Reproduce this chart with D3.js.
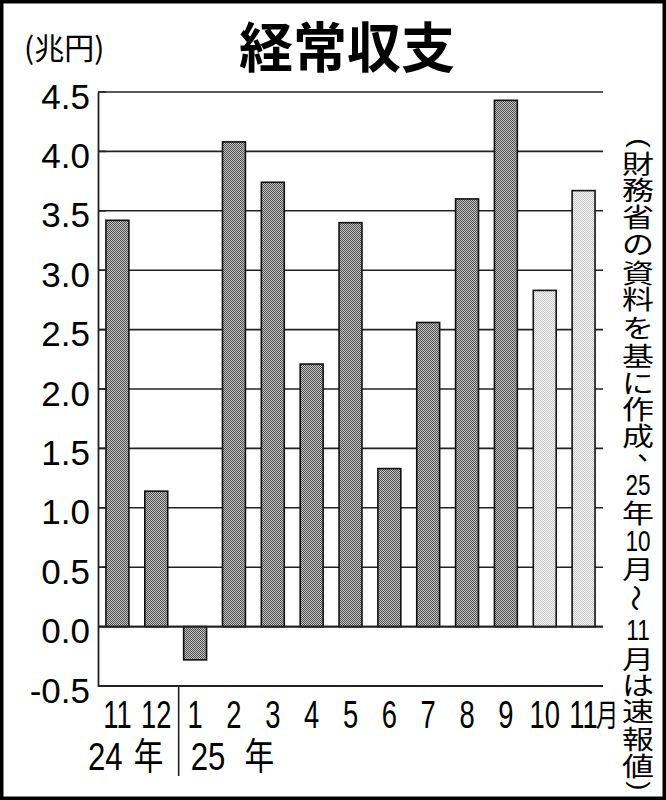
<!DOCTYPE html>
<html><head><meta charset="utf-8">
<script src="https://cdn.jsdelivr.net/npm/d3@7"></script>
<style>body{margin:0;background:#fff} svg{display:block}</style>
</head><body>
<svg id="c" width="666" height="800"></svg>
<script>
// ---- data ----
const months = ["11","12","1","2","3","4","5","6","7","8","9","10","11"];
const values = [3.42, 1.14, -0.28, 4.08, 3.74, 2.21, 3.40, 1.33, 2.56, 3.60, 4.43, 2.83, 3.67];
const preliminary = [false,false,false,false,false,false,false,false,false,false,false,true,true];
const yTicks = [-0.5, 0, 0.5, 1.0, 1.5, 2.0, 2.5, 3.0, 3.5, 4.0, 4.5];
const yearLabels = ["24", "25"];
const yearStartIndex = [0, 2];
const titleText = "経常収支";
const unitText = "(兆円)";
const noteUnits = ["(","財","務","省","の","資","料","を","基","に","作","成","、","25","年","10","月","～","11","月","は","速","報","値",")"];
const noteAdvance = [0,20,25.5,27,27.5,28.5,26.5,28.5,28,27,26.5,27,23,26,28,27.5,28.5,30,30.5,29,26.5,26,28,27,21];

// ---- layout ----
const svg = d3.select("#c");
const CJK = "'Noto Sans CJK JP', 'Noto Sans CJK SC', sans-serif";
const NUM = "'Liberation Sans', Arial, sans-serif";

const x = d3.scaleBand().domain(d3.range(months.length)).range([98, 603])
  .paddingInner(0.41).paddingOuter(0.205);
const y = d3.scaleLinear().domain([-0.5, 4.5]).range([686, 92]);

// patterns
const defs = svg.append("defs");
function pat(id, a, b) {
  const p = defs.append("pattern").attr("id", id).attr("patternUnits", "userSpaceOnUse")
    .attr("width", 2).attr("height", 2);
  p.append("rect").attr("width", 2).attr("height", 2).attr("fill", a);
  p.append("rect").attr("width", 1).attr("height", 1).attr("fill", b);
  p.append("rect").attr("x", 1).attr("y", 1).attr("width", 1).attr("height", 1).attr("fill", b);
}
pat("dark", "#c4c4c4", "#505050");
pat("light", "#f6f6f6", "#c8c8c8");

// frame
svg.append("rect").attr("x", 1.75).attr("y", 1.75).attr("width", 662.5).attr("height", 796.5)
  .attr("fill", "none").attr("stroke", "#000").attr("stroke-width", 3.5);

// title
svg.append("text").attr("x", 347).attr("y", 68).attr("text-anchor", "middle")
  .attr("font-family", CJK).attr("font-weight", 700).attr("font-size", 54).text(titleText);
svg.append("text").attr("x", 24).attr("y", 59)
  .attr("font-family", CJK).attr("font-size", 30).text(unitText);

// gridlines
svg.append("g").selectAll("line").data(yTicks.filter(d => d > -0.5)).join("line")
  .attr("x1", 98).attr("x2", 603).attr("y1", d => y(d)).attr("y2", d => y(d))
  .attr("stroke", "#222").attr("stroke-width", 1.6);

// y axis
const fmt = d => d3.format(".1f")(d).replace("−", "-");
const yAxis = d3.axisLeft(y).tickValues(yTicks).tickSize(0).tickPadding(8).tickFormat(fmt);
const ga = svg.append("g").attr("transform", "translate(98,0)").call(yAxis);
ga.select(".domain").attr("stroke", "#222").attr("stroke-width", 1.8);
ga.selectAll("text").attr("font-family", NUM).attr("font-size", 35).attr("fill", "#000")
  .attr("dy", null).attr("y", 16);
// inner ticks
svg.append("g").selectAll("line").data(yTicks).join("line")
  .attr("x1", 98).attr("x2", 106).attr("y1", d => y(d)).attr("y2", d => y(d))
  .attr("stroke", "#222").attr("stroke-width", 1.6);

// bottom axis line
svg.append("line").attr("x1", 98).attr("x2", 603).attr("y1", y(-0.5)).attr("y2", y(-0.5))
  .attr("stroke", "#222").attr("stroke-width", 1.8);

// bars
svg.append("g").selectAll("rect").data(values).join("rect")
  .attr("x", (d, i) => x(i)).attr("width", x.bandwidth())
  .attr("y", d => y(Math.max(0, d))).attr("height", d => Math.abs(y(d) - y(0)))
  .attr("fill", (d, i) => preliminary[i] ? "url(#light)" : "url(#dark)")
  .attr("stroke", "#111").attr("stroke-width", 1.6);

// zero line on top
svg.append("line").attr("x1", 98).attr("x2", 603).attr("y1", y(0)).attr("y2", y(0))
  .attr("stroke", "#222").attr("stroke-width", 1.8);

// month labels (condensed)
svg.append("g").selectAll("g").data(months).join("g")
  .attr("transform", (d, i) => `translate(${x(i) + x.bandwidth() / 2},728) scale(0.72,1)`)
  .append("text").attr("text-anchor", "middle").attr("font-family", NUM).attr("font-size", 38)
  .text(d => d);
const last = months.length - 1;
svg.append("g").attr("transform", `translate(${x(last) + x.bandwidth() + 1},726) scale(0.72,1)`)
  .append("text").attr("font-family", CJK).attr("font-size", 31).text("月");

// year labels
const yearOffsets = [[-18, x(1) - x(0) - 11], [7, x(3) - x(2) + 22]];
yearLabels.forEach((lab, k) => {
  const base = x(yearStartIndex[k]);
  svg.append("g").attr("transform", `translate(${base + yearOffsets[k][0]},770) scale(0.82,1)`)
    .append("text").attr("font-family", NUM).attr("font-size", 38).text(lab);
  svg.append("g").attr("transform", `translate(${base + yearOffsets[k][1]},770) scale(0.8,1)`)
    .append("text").attr("font-family", CJK).attr("font-size", 37).text("年");
});
// separator
const sepX = x(2) - 5;
svg.append("line").attr("x1", sepX).attr("x2", sepX).attr("y1", y(-0.5)).attr("y2", 776)
  .attr("stroke", "#222").attr("stroke-width", 1.6);

// vertical note
let cy = 143;
const noteG = svg.append("g");
const NX = 638;
noteUnits.forEach((u, i) => {
  cy += noteAdvance[i];
  const isNum = /^[0-9]+$/.test(u);
  const g = noteG.append("g");
  if (isNum) {
    g.attr("transform", `translate(${NX},${cy}) scale(0.75,1)`);
    g.append("text").attr("text-anchor", "middle").attr("y", 11)
      .attr("font-family", NUM).attr("font-size", 30).text(u);
  } else if (u === "(" || u === ")") {
    g.attr("transform", `translate(${NX},${cy}) rotate(90) scale(1,0.9)`);
    g.append("text").attr("text-anchor", "middle").attr("y", 8)
      .attr("font-family", NUM).attr("font-size", 28).text(u);
  } else if (u === "～") {
    g.attr("transform", `translate(${NX},${cy}) rotate(90) scale(0.9,1)`);
    g.append("text").attr("text-anchor", "middle").attr("dominant-baseline", "central")
      .attr("font-family", CJK).attr("font-size", 30).text(u);
  } else if (u === "、") {
    g.attr("transform", `translate(${NX + 13},${cy - 10})`);
    g.append("text").attr("text-anchor", "middle").attr("dominant-baseline", "central")
      .attr("font-family", CJK).attr("font-size", 28).text(u);
  } else {
    g.attr("transform", `translate(${NX},${cy}) scale(1,0.8)`);
    g.append("text").attr("text-anchor", "middle").attr("dominant-baseline", "central")
      .attr("font-family", CJK).attr("font-size", 32).text(u);
  }
});
</script>
</body></html>
